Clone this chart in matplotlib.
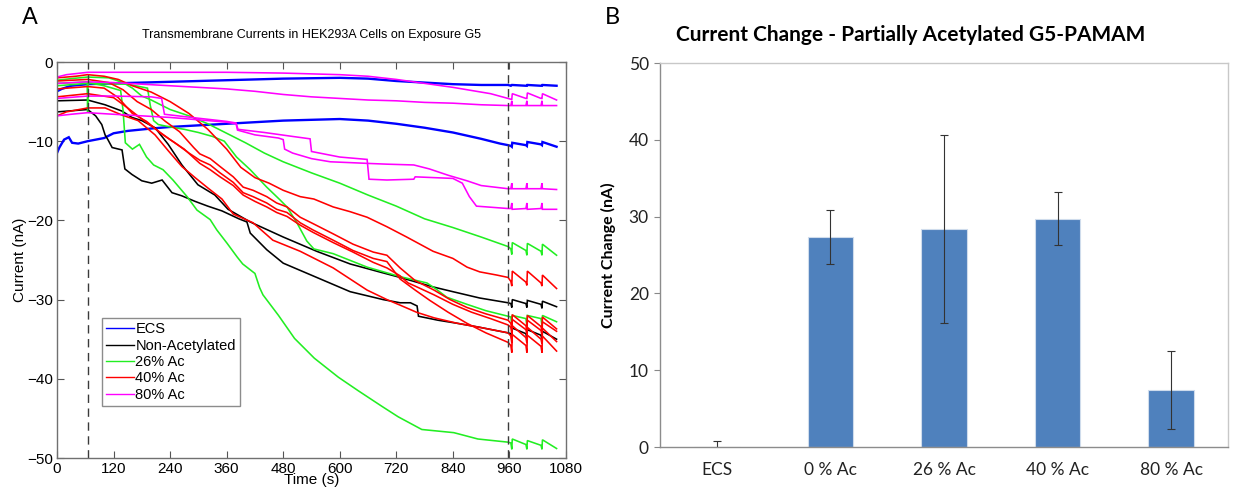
import matplotlib
matplotlib.use("Agg")
import matplotlib.pyplot as plt
from matplotlib.lines import Line2D

# ---------------- Panel A: current traces (time in s, current in nA) ----------------
# Shared time points for the periodic perturbations after the second marker
TAIL_T = [963, 965, 966, 995, 997, 998, 1027, 1029, 1030, 1060]

# ECS (blue)
ECS1_T = [0, 10, 30, 65, 120, 180, 240, 300, 360, 420, 480, 540, 600, 660, 720, 780, 840, 900, 957]
ECS1_V = [-3.7, -3.4, -3.0, -2.8, -2.7, -2.6, -2.5, -2.4, -2.3, -2.2, -2.1, -2.05, -2.0, -2.1, -2.4, -2.6, -2.8, -2.9, -2.9]
ECS1_TAIL = [-3.0, -2.9, -2.9, -3.0, -3.0, -2.9, -3.0, -3.0, -2.9, -3.0]

ECS2_T = [0, 5, 15, 25, 32, 45, 65, 100, 120, 150, 200, 240, 300, 360, 420, 480, 540, 600, 660, 720, 780, 840, 900, 940, 957]
ECS2_V = [-11.5, -10.8, -9.8, -9.5, -10.2, -10.3, -10.0, -9.6, -9.0, -8.7, -8.4, -8.2, -8.0, -7.8, -7.6, -7.4, -7.3, -7.2, -7.4, -7.8, -8.3, -8.9, -9.7, -10.3, -10.5]
ECS2_TAIL = [-10.6, -10.7, -10.2, -10.5, -10.6, -10.1, -10.4, -10.5, -10.1, -10.7]

# Non-acetylated (black)
NA1_T = [0, 65, 102, 138, 159, 180, 208, 236, 265, 299, 335, 363, 410, 480, 551, 622, 690, 728, 798, 840, 897, 957]
NA1_V = [-4.9, -4.8, -5.4, -6.2, -7.0, -7.4, -8.3, -10.4, -13.0, -15.5, -16.8, -18.6, -20.2, -22.1, -23.9, -25.5, -26.6, -27.2, -28.4, -29.0, -29.8, -30.4]
NA1_TAIL = [-30.5, -31.0, -30.0, -30.5, -31.0, -30.1, -30.6, -31.1, -30.2, -30.9]

NA2_T = [0, 65, 82, 95, 102, 108, 117, 138, 144, 159, 180, 201, 223, 244, 265, 293, 320, 350, 386, 403, 410, 445, 480, 551, 622, 692, 728, 750, 764, 767, 808, 850, 897, 957]
NA2_V = [-6.3, -6.0, -6.8, -7.9, -9.2, -9.8, -10.8, -11.1, -13.5, -14.2, -15.0, -15.3, -14.9, -16.5, -16.9, -17.6, -18.2, -18.8, -19.8, -20.2, -21.6, -23.7, -25.4, -27.2, -29.0, -30.0, -30.4, -30.4, -30.8, -32.1, -32.6, -33.0, -33.5, -34.2]
NA2_TAIL = [-34.3, -35.0, -33.6, -34.3, -35.0, -33.8, -34.5, -35.1, -34.0, -35.0]

# 26% acetylated (green)
AC26_1_T = [0, 30, 65, 110, 140, 160, 180, 200, 240, 280, 320, 360, 400, 440, 480, 540, 600, 660, 720, 780, 840, 900, 957]
AC26_1_V = [-2.3, -2.1, -1.9, -2.0, -2.6, -3.3, -4.3, -4.8, -6.0, -6.8, -7.8, -9.0, -10.2, -11.5, -12.6, -14.0, -15.3, -16.8, -18.2, -19.8, -20.9, -22.1, -23.3]
AC26_1_TAIL = [-23.6, -24.3, -22.8, -23.8, -24.4, -22.9, -23.9, -24.4, -23.0, -24.4]

AC26_2_T = [0, 65, 150, 192, 198, 205, 215, 240, 270, 300, 330, 355, 381, 410, 445, 473, 488, 509, 530, 545, 586, 658, 728, 785, 805, 827, 870, 910, 957]
AC26_2_V = [-3.0, -2.7, -2.8, -3.3, -5.5, -7.4, -7.9, -8.2, -8.5, -8.9, -9.4, -10.0, -12.0, -13.6, -15.8, -17.4, -18.3, -20.3, -22.6, -23.6, -24.2, -25.9, -27.1, -27.9, -28.7, -29.7, -30.6, -31.4, -32.1]
AC26_2_TAIL = [-32.2, -33.2, -32.0, -32.4, -33.3, -32.0, -32.4, -33.3, -32.0, -32.8]

AC26_3_T = [0, 40, 64, 65, 66, 100, 135, 140, 145, 160, 175, 190, 205, 225, 246, 276, 297, 325, 339, 361, 382, 394, 420, 430, 437, 470, 504, 546, 597, 639, 690, 724, 774, 808, 842, 893, 957]
AC26_3_V = [-2.7, -2.6, -2.5, -6.3, -2.6, -3.0, -3.6, -6.0, -10.2, -11.0, -10.4, -12.0, -13.0, -13.6, -14.9, -17.0, -18.7, -19.9, -21.2, -22.9, -24.6, -25.5, -26.7, -28.5, -29.4, -32.0, -34.9, -37.4, -39.8, -41.5, -43.5, -44.8, -46.4, -46.6, -46.8, -47.6, -48.0]
AC26_3_TAIL = [-48.1, -48.9, -47.6, -48.3, -48.9, -47.8, -48.4, -48.9, -47.7, -48.8]

# 40% acetylated (red)
AC40_1_T = [0, 40, 65, 100, 130, 160, 200, 240, 280, 320, 360, 390, 420, 450, 480, 516, 545, 586, 622, 658, 700, 742, 798, 840, 870, 897, 933, 957]
AC40_1_V = [-2.0, -1.8, -1.6, -1.8, -2.2, -3.0, -3.8, -5.0, -6.5, -8.5, -11.0, -13.3, -14.6, -15.3, -16.2, -17.0, -17.3, -18.3, -18.9, -19.6, -20.8, -22.1, -23.9, -24.8, -25.9, -26.5, -26.9, -27.2]
AC40_1_TAIL = [-27.7, -28.3, -26.4, -27.8, -28.2, -26.4, -27.9, -28.3, -26.9, -28.6]

AC40_2_T = [0, 65, 110, 140, 170, 200, 230, 260, 290, 303, 325, 346, 374, 395, 416, 445, 466, 488, 516, 543, 586, 628, 671, 700, 728, 760, 800, 834, 870, 910, 957]
AC40_2_V = [-2.4, -2.2, -2.6, -3.5, -5.0, -6.0, -7.5, -8.8, -10.8, -11.6, -12.2, -13.2, -14.5, -15.8, -16.2, -17.0, -17.8, -18.3, -19.6, -20.4, -21.7, -23.0, -24.0, -24.4, -26.0, -27.6, -28.8, -30.0, -31.0, -31.8, -32.6]
AC40_2_TAIL = [-33.0, -33.8, -31.9, -33.3, -34.0, -32.0, -33.4, -34.1, -32.2, -33.7]

AC40_3_T = [0, 65, 100, 130, 160, 190, 220, 250, 280, 303, 325, 346, 374, 395, 416, 445, 466, 488, 516, 543, 586, 628, 671, 700, 728, 760, 791, 830, 870, 910, 957]
AC40_3_V = [-3.4, -3.1, -3.3, -4.5, -6.5, -7.5, -9.0, -10.2, -11.5, -12.4, -13.0, -14.0, -15.2, -16.5, -17.0, -17.8, -18.6, -19.0, -20.3, -21.2, -22.5, -23.8, -24.8, -25.2, -27.4, -28.8, -30.1, -31.6, -33.0, -34.2, -35.4]
AC40_3_TAIL = [-35.8, -36.7, -34.4, -35.8, -36.7, -34.5, -35.9, -36.7, -34.6, -36.5]

AC40_4_T = [0, 65, 120, 150, 180, 210, 240, 270, 303, 325, 346, 374, 395, 420, 445, 466, 488, 516, 543, 586, 628, 671, 700, 728, 745, 760, 800, 840, 880, 920, 957]
AC40_4_V = [-4.4, -4.0, -4.5, -5.8, -7.2, -8.5, -9.8, -11.0, -12.8, -13.6, -14.5, -15.6, -16.8, -17.6, -18.3, -19.0, -19.5, -20.6, -21.5, -22.8, -24.0, -25.3, -26.0, -27.0, -27.9, -28.3, -29.4, -30.6, -31.6, -32.4, -33.2]
AC40_4_TAIL = [-33.5, -34.3, -32.5, -33.8, -34.4, -32.6, -33.9, -34.5, -32.8, -34.0]

AC40_5_T = [0, 20, 65, 102, 138, 172, 208, 236, 265, 293, 320, 350, 374, 416, 458, 516, 586, 658, 700, 728, 763, 800, 850, 897, 957]
AC40_5_V = [-6.8, -6.3, -5.8, -5.8, -6.7, -7.4, -9.2, -11.2, -13.2, -14.6, -15.9, -17.3, -19.2, -20.3, -22.5, -23.9, -26.0, -28.8, -30.0, -30.7, -31.6, -32.3, -33.0, -33.5, -34.2]
AC40_5_TAIL = [-34.6, -35.5, -33.3, -34.8, -35.5, -33.5, -35.0, -35.6, -33.6, -35.3]

# 80% acetylated (magenta)
AC80_1_T = [0, 20, 65, 120, 240, 360, 480, 600, 660, 720, 780, 840, 880, 920, 957]
AC80_1_V = [-1.9, -1.6, -1.3, -1.3, -1.3, -1.3, -1.4, -1.6, -1.8, -2.2, -2.7, -3.2, -3.6, -4.0, -4.6]
AC80_1_TAIL = [-4.7, -4.7, -4.0, -4.6, -4.6, -3.9, -4.6, -4.6, -4.0, -4.8]

AC80_2_T = [0, 65, 120, 240, 300, 360, 420, 480, 540, 600, 660, 720, 780, 840, 900, 957]
AC80_2_V = [-2.7, -2.5, -2.6, -3.0, -3.2, -3.4, -3.7, -4.1, -4.4, -4.6, -4.8, -4.9, -5.1, -5.2, -5.4, -5.5]
AC80_2_TAIL = [-5.5, -4.9, -5.5, -5.5, -4.9, -5.5, -5.5, -4.9, -5.5, -5.5]

AC80_3_T = [0, 30, 65, 120, 180, 240, 300, 360, 380, 383, 420, 470, 480, 483, 500, 540, 580, 620, 658, 700, 757, 790, 830, 870, 900, 957]
AC80_3_V = [-6.8, -6.6, -6.4, -6.6, -6.8, -7.0, -7.3, -7.6, -7.8, -8.6, -9.2, -9.6, -9.8, -11.0, -11.5, -12.2, -12.6, -12.7, -12.8, -12.9, -13.0, -13.5, -14.3, -15.0, -15.6, -16.0]
AC80_3_TAIL = [-16.0, -15.3, -16.0, -16.0, -15.3, -16.0, -16.0, -15.3, -16.0, -16.1]

AC80_4_T = [0, 65, 120, 200, 222, 228, 300, 360, 380, 384, 440, 500, 537, 540, 600, 658, 662, 700, 757, 760, 840, 860, 875, 890, 957]
AC80_4_V = [-4.6, -4.3, -4.3, -4.4, -4.6, -6.6, -7.1, -7.5, -7.7, -8.5, -8.9, -9.4, -9.7, -11.3, -12.0, -12.3, -14.8, -14.9, -14.8, -14.5, -14.7, -15.3, -17.0, -18.2, -18.5]
AC80_4_TAIL = [-18.5, -17.8, -18.6, -18.5, -17.8, -18.6, -18.5, -17.8, -18.6, -18.6]

GROUP_LABELS = ["ECS", "Non-Acetylated", "26% Ac", "40% Ac", "80% Ac"]
GROUP_COLORS = ["#0000ff", "#000000", "#22ee22", "#ff0000", "#ff00ff"]
GROUP_TRACES = [
    [(ECS1_T, ECS1_V, ECS1_TAIL), (ECS2_T, ECS2_V, ECS2_TAIL)],
    [(NA1_T, NA1_V, NA1_TAIL), (NA2_T, NA2_V, NA2_TAIL)],
    [(AC26_1_T, AC26_1_V, AC26_1_TAIL), (AC26_2_T, AC26_2_V, AC26_2_TAIL),
     (AC26_3_T, AC26_3_V, AC26_3_TAIL)],
    [(AC40_1_T, AC40_1_V, AC40_1_TAIL), (AC40_2_T, AC40_2_V, AC40_2_TAIL),
     (AC40_3_T, AC40_3_V, AC40_3_TAIL), (AC40_4_T, AC40_4_V, AC40_4_TAIL),
     (AC40_5_T, AC40_5_V, AC40_5_TAIL)],
    [(AC80_1_T, AC80_1_V, AC80_1_TAIL), (AC80_2_T, AC80_2_V, AC80_2_TAIL),
     (AC80_3_T, AC80_3_V, AC80_3_TAIL), (AC80_4_T, AC80_4_V, AC80_4_TAIL)],
]
EXPOSURE_MARKS = [65, 957]
X_TICKS = [0, 120, 240, 360, 480, 600, 720, 840, 960, 1080]
Y_TICKS = [-50, -40, -30, -20, -10, 0]

# ---------------- Panel B: mean current change ----------------
CATEGORIES = ["ECS", "0 % Ac", "26 % Ac", "40 % Ac", "80 % Ac"]
CHANGE_MEAN = [0.0, 27.3, 28.4, 29.7, 7.4]
CHANGE_ERR = [0.74, 3.5, 12.2, 3.45, 5.05]
B_Y_TICKS = [0, 10, 20, 30, 40, 50]

W, H = 1235, 496
fig = plt.figure(figsize=(W / 100, H / 100), dpi=100)
fig.patch.set_facecolor("white")

MFONT = ["Liberation Sans", "DejaVu Sans"]
XFONT = ["Lato", "DejaVu Sans"]

# ---- Panel A ----
axA = fig.add_axes([57 / W, 1 - 458 / H, 509 / W, 396 / H])
for color, traces in zip(GROUP_COLORS, GROUP_TRACES):
    lw = 1.7 if color == "#0000ff" else 1.15
    for t, v, tail in traces:
        axA.plot(list(t) + TAIL_T, list(v) + list(tail), color=color, lw=lw,
                 solid_joinstyle="miter")
for xm in EXPOSURE_MARKS:
    axA.axvline(xm, color="#3a3a3a", lw=1.0, ls=(0, (6, 4)))

axA.set_xlim(0, 1080)
axA.set_ylim(-50, 0)
axA.set_xticks(X_TICKS)
axA.set_yticks(Y_TICKS)
axA.tick_params(direction="in", top=True, right=True, length=5, width=0.8,
                color="#555555", labelsize=11, pad=3)
for lab in axA.get_xticklabels() + axA.get_yticklabels():
    lab.set_family(MFONT)
for sp in axA.spines.values():
    sp.set_color("#707070")
    sp.set_linewidth(1.0)
axA.set_xlabel("Time (s)", fontsize=11, family=MFONT, labelpad=-2)
axA.set_ylabel("Current (nA)", fontsize=11, family=MFONT, labelpad=0)

handles = [Line2D([0], [0], color=c, lw=1.0) for c in GROUP_COLORS]
leg = axA.legend(handles, GROUP_LABELS, loc="lower left",
                 bbox_to_anchor=(0.088, 0.131), prop={"family": MFONT, "size": 10.5},
                 frameon=True, fancybox=False, handlelength=1.9, handletextpad=0.1,
                 labelspacing=0.16, borderpad=0.3, borderaxespad=0)
leg.get_frame().set_edgecolor("#707070")
leg.get_frame().set_linewidth(1.0)

fig.text(311 / W, 1 - 35 / H, "Transmembrane Currents in HEK293A Cells on Exposure G5",
         fontsize=9, family=MFONT, ha="center", va="center")
fig.text(30 / W, 1 - 18 / H, "A", fontsize=17, family=MFONT, ha="center", va="center")

# ---- Panel B ----
axB = fig.add_axes([660 / W, 1 - 447 / H, 568 / W, 384 / H])
xpos = list(range(len(CATEGORIES)))
axB.bar(xpos, CHANGE_MEAN, width=0.4, color="#4f81bd", edgecolor="#cfdcec", linewidth=0.8)
axB.errorbar(xpos, CHANGE_MEAN, yerr=CHANGE_ERR, fmt="none", ecolor="#333333",
             elinewidth=0.8, capsize=3, capthick=0.8)
axB.set_xlim(-0.5, 4.5)
axB.set_ylim(0, 50)
axB.set_yticks(B_Y_TICKS)
axB.set_xticks(xpos)
axB.set_xticklabels(CATEGORIES)
axB.tick_params(axis="y", direction="out", length=4, width=0.8, color="#888888",
                labelsize=12.5, pad=4)
axB.tick_params(axis="x", length=0, labelsize=12.5, pad=11)
for lab in axB.get_xticklabels() + axB.get_yticklabels():
    lab.set_family(XFONT)
    lab.set_color("#222222")
for name, sp in axB.spines.items():
    sp.set_linewidth(1.0)
    sp.set_color("#8c8c8c" if name in ("left", "bottom") else "#c8c8c8")
axB.set_ylabel("Current Change (nA)", fontsize=11.5, fontweight="bold",
               family=XFONT, labelpad=9)
fig.text(911 / W, 1 - 35 / H, "Current Change - Partially Acetylated G5-PAMAM",
         fontsize=15, fontweight="bold", family=XFONT, ha="center", va="center")
fig.text(612 / W, 1 - 18 / H, "B", fontsize=17, family=XFONT, ha="center", va="center")

fig.savefig("out.png", dpi=100, facecolor="white")
